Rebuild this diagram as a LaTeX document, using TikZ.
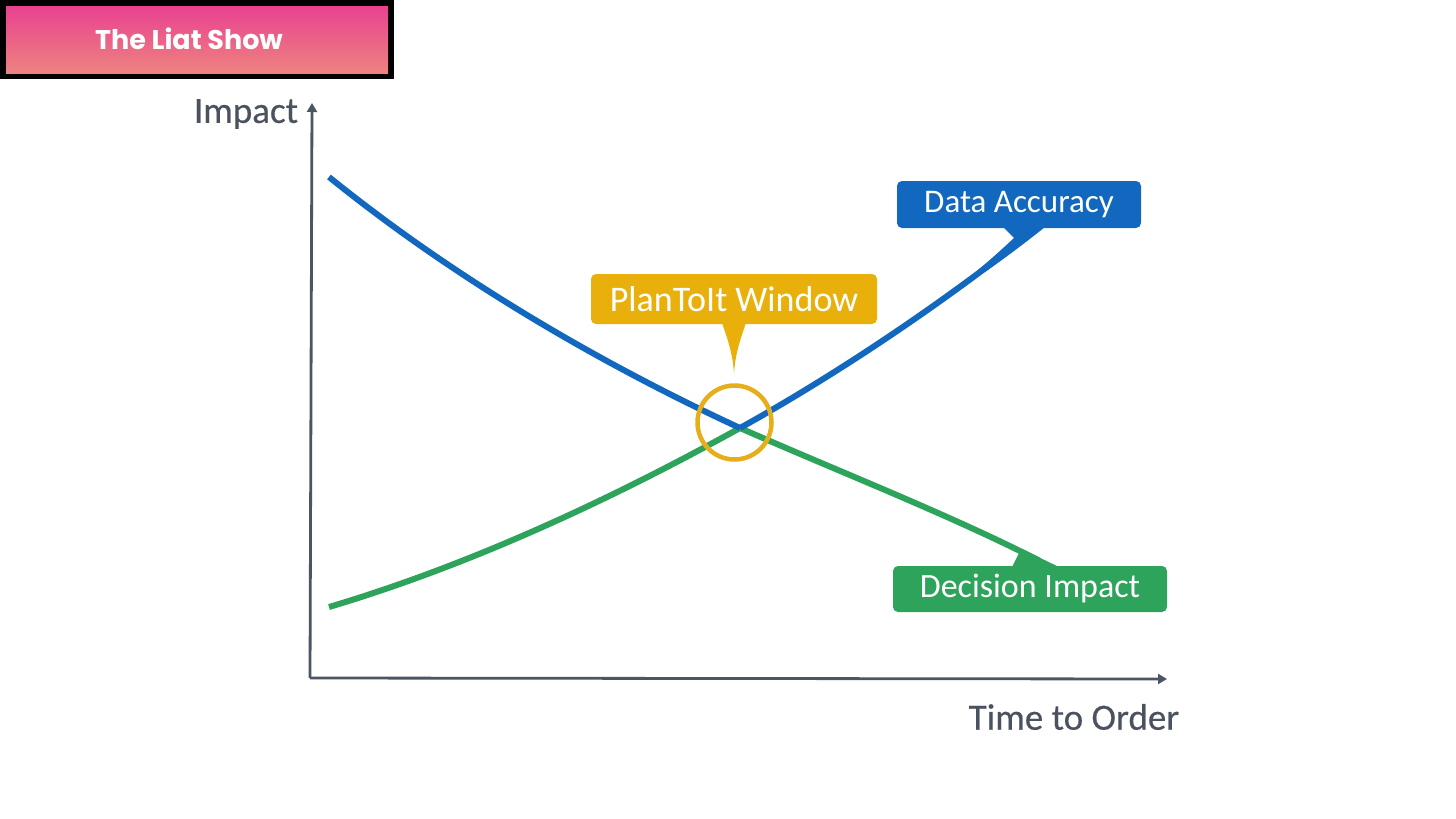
\documentclass[tikz,border=0pt]{standalone}
\usepackage{fontspec}
\setmainfont{Carlito}
\newfontfamily\headfont{Poppins}
\newfontfamily\labfont[FakeBold=0.4]{Carlito}
\usetikzlibrary{arrows.meta}
\definecolor{axisgrey}{HTML}{4B5563}
\definecolor{labelgrey}{HTML}{4A5260}
\definecolor{bluec}{HTML}{1268BE}
\definecolor{greenc}{HTML}{2EA35B}
\definecolor{yellowc}{HTML}{E9B00C}
\definecolor{ringc}{HTML}{E6AE1B}
\definecolor{pinkt}{HTML}{E8428F}
\definecolor{pinkb}{HTML}{EE8280}
\tikzset{
  x=1pt,y=-1pt,
  callout/.style={rounded corners=5pt,inner sep=0pt,text=white,anchor=center},
  axisline/.style={draw=axisgrey,line width=2.8pt,-{Triangle[length=9pt,width=10pt]}},
  axislabel/.style={text=labelgrey,font=\labfont\fontsize{37}{40}\selectfont,inner sep=0pt},
  curve/.style={line width=6pt,line cap=butt}
}
\begin{document}
\begin{tikzpicture}
\useasboundingbox (0,0) rectangle (1456,819);
\fill[white] (0,0) rectangle (1456,819);
% header
\node[fill=black,minimum width=394pt,minimum height=79pt,inner sep=0pt] (frame) at (197,39.5) {};
\node[top color=pinkt,bottom color=pinkb,minimum width=382pt,minimum height=67pt,inner sep=0pt] (banner) at (197,39.5) {};
\node[inner sep=0pt,text=white,font=\headfont\bfseries\fontsize{27}{30}\selectfont] (title) at (189,39) {The Liat Show};
% axes
\coordinate (origin) at (310,678);
\coordinate (ytip) at (312,103);
\coordinate (xtip) at (1167,679);
\draw[axisline] (origin) -- (ytip);
\draw[axisline] (origin) -- (xtip);
\node[axislabel] (ylabel) at (246,114) {Impact};
\node[axislabel] (xlabel) at (1074,717) {Time to Order};
% curve points
\coordinate (cross) at (740,428);
\coordinate (blueS) at (329,177);
\coordinate (greenS) at (329,607);
\coordinate (blueE) at (1022,240);
\coordinate (greenE) at (1040,561);
% boxes
\node[callout,fill=bluec,minimum width=244pt,minimum height=47pt,font=\fontsize{33}{36}\selectfont] (data) at (1019,204.5) {\raisebox{-3pt}{Data Accuracy}};
\node[callout,fill=greenc,minimum width=274pt,minimum height=46pt,font=\fontsize{34}{37}\selectfont] (decision) at (1030,589) {\raisebox{-3pt}{Decision Impact}};
\node[callout,fill=yellowc,minimum width=286pt,minimum height=50pt,font=\fontsize{36}{39}\selectfont] (window) at (734,299) {\raisebox{-1pt}{PlanToIt Window}};
% tails
\fill[bluec] (1003,227) -- (1014,238) .. controls (1000,251) and (990,260) .. (978,270) -- (985,272) .. controls (1005,258) and (1025,243) .. (1045,227) -- cycle;
\fill[greenc] (1012,567) -- (1019,553) -- (1030,553) -- (1059,567) -- cycle;
\fill[yellowc] (722,323) .. controls (728,340) and (733,355) .. (734,374) .. controls (735,355) and (740,340) .. (746,323) -- cycle;
% curves
\draw[greenc,curve] (greenS) .. controls (470,565) and (610,500) .. (cross);
\draw[greenc,curve] (cross) .. controls (840,472) and (950,515) .. (greenE);
\draw[bluec,curve] (blueS) .. controls (460,283) and (610,368) .. (cross);
\draw[bluec,curve] (cross) .. controls (830,378) and (930,312) .. (blueE);
% ring
\node[circle,draw=ringc,line width=4.5pt,minimum size=74pt,inner sep=0pt] (ring) at (734.5,422.5) {};
\end{tikzpicture}
\end{document}
